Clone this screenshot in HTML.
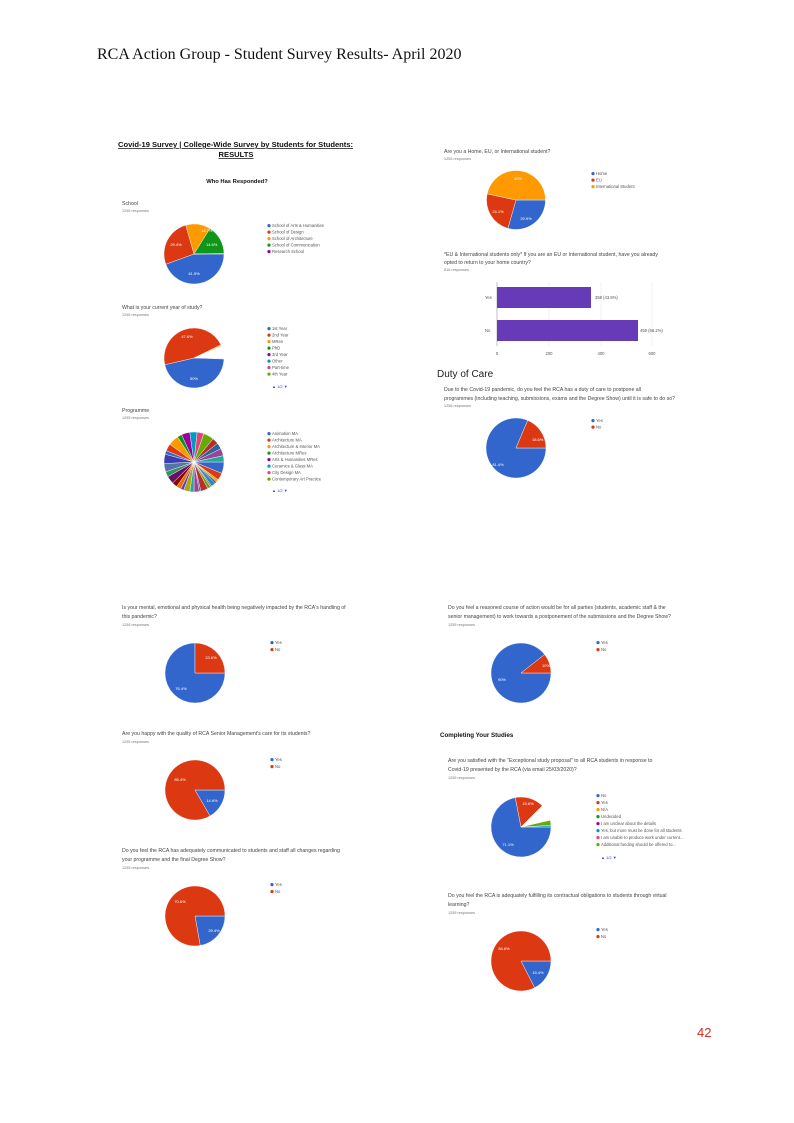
<!DOCTYPE html>
<html><head><meta charset="utf-8"><style>
html,body{margin:0;padding:0;background:#fff}
svg{display:block}
text{font-family:"Liberation Sans",sans-serif}
.t{font-size:5.2px;fill:#444}
.r{font-size:3.8px;fill:#777}
.l{font-size:4.2px;fill:#555}
.p{font-size:4px;fill:#fff}
</style></head><body>
<svg id="s" width="794" height="1123" viewBox="0 0 794 1123" xmlns="http://www.w3.org/2000/svg">
<text x="97" y="59" style="font-family:'Liberation Serif',serif;font-size:16px;fill:#111">RCA Action Group - Student Survey Results- April 2020</text>
<text x="697" y="1037" style="font-size:13px;fill:#d03020">42</text>

<text x="118" y="147" style="font-size:7.6px;font-weight:bold;fill:#111;text-decoration:underline" textLength="235">Covid-19 Survey | College-Wide Survey by Students for Students:</text>
<text x="236" y="157" text-anchor="middle" style="font-size:7.6px;font-weight:bold;fill:#111;text-decoration:underline">RESULTS</text>
<text x="237" y="183" text-anchor="middle" style="font-size:5.8px;font-weight:bold;fill:#111">Who Has Responded?</text>

<text class="t" x="122" y="205">School</text><text class="r" x="122" y="212">1255 responses</text>
<text class="t" x="122" y="309">What is your current year of study?</text><text class="r" x="122" y="316">1255 responses</text>
<text class="t" x="122" y="412">Programme</text><text class="r" x="122" y="419">1255 responses</text>

<g class="l">
<text x="272" y="227">School of Arts &amp; Humanities</text><text x="272" y="233.5">School of Design</text><text x="272" y="240">School of Architecture</text><text x="272" y="246.5">School of Communication</text><text x="272" y="253">Research School</text>
<text x="272" y="330">1st Year</text><text x="272" y="336.5">2nd Year</text><text x="272" y="343">MRes</text><text x="272" y="349.5">PhD</text><text x="272" y="356">3rd Year</text><text x="272" y="362.5">Other</text><text x="272" y="369">Part-time</text><text x="272" y="375.5">4th Year</text>
<text x="272" y="435">Animation MA</text><text x="272" y="441.5">Architecture MA</text><text x="272" y="448">Architecture &amp; Interior MA</text><text x="272" y="454.5">Architecture MRes</text><text x="272" y="461">Arts &amp; Humanities MRes</text><text x="272" y="467.5">Ceramics &amp; Glass MA</text><text x="272" y="474">City Design MA</text><text x="272" y="480.5">Contemporary Art Practice</text>
</g>
<text x="272" y="388" style="font-size:4px;fill:#3344cc">▲ 1/2 ▼</text>
<text x="272" y="492" style="font-size:4px;fill:#3344cc">▲ 1/2 ▼</text>

<text class="t" x="444" y="153">Are you a Home, EU, or International student?</text><text class="r" x="444" y="160">1255 responses</text>
<g class="l"><text x="596" y="175">Home</text><text x="596" y="181.5">EU</text><text x="596" y="188">International Student</text></g>
<text class="t" x="444" y="256">*EU &amp; International students only* If you are an EU or International student, have you already</text>
<text class="t" x="444" y="264">opted to return to your home country?</text><text class="r" x="444" y="271">816 responses</text>

<g stroke="#e6e6e6" stroke-width="0.6">
<line x1="549" y1="282" x2="549" y2="346"/><line x1="601" y1="282" x2="601" y2="346"/><line x1="652" y1="282" x2="652" y2="346"/>
</g>
<line x1="497" y1="282" x2="497" y2="346" stroke="#999" stroke-width="0.6"/>
<rect x="497" y="287" width="94" height="21" fill="#673ab7"/>
<rect x="497" y="320" width="141" height="21" fill="#673ab7"/>
<g class="l"><text x="485" y="299">Yes</text><text x="485" y="332">No</text>
<text x="595" y="299">358 (43.8%)</text><text x="640" y="332">459 (56.2%)</text>
<text x="497" y="355" text-anchor="middle">0</text><text x="549" y="355" text-anchor="middle">200</text><text x="601" y="355" text-anchor="middle">400</text><text x="652" y="355" text-anchor="middle">600</text></g>

<text x="437" y="377" style="font-size:10px;fill:#222">Duty of Care</text>
<text class="t" x="444" y="391">Due to the Covid-19 pandemic, do you feel the RCA has a duty of care to postpone all</text>
<text class="t" x="444" y="400">programmes (including teaching, submissions, exams and the Degree Show) until it is safe to do so?</text>
<text class="r" x="444" y="407">1255 responses</text>
<g class="l"><text x="596" y="422">Yes</text><text x="596" y="428.5">No</text></g>

<text class="t" x="122" y="609">Is your mental, emotional and physical health being negatively impacted by the RCA's handling of</text>
<text class="t" x="122" y="618">this pandemic?</text><text class="r" x="122" y="626">1255 responses</text>
<g class="l"><text x="275" y="644">Yes</text><text x="275" y="651">No</text></g>
<text class="t" x="122" y="735">Are you happy with the quality of RCA Senior Management's care for its students?</text><text class="r" x="122" y="743">1255 responses</text>
<g class="l"><text x="275" y="761">Yes</text><text x="275" y="768">No</text></g>
<text class="t" x="122" y="852">Do you feel the RCA has adequately communicated to students and staff all changes regarding</text>
<text class="t" x="122" y="861">your programme and the final Degree Show?</text><text class="r" x="122" y="869">1255 responses</text>
<g class="l"><text x="275" y="886">Yes</text><text x="275" y="893">No</text></g>

<text class="t" x="448" y="609">Do you feel a reasoned course of action would be for all parties (students, academic staff &amp; the</text>
<text class="t" x="448" y="618">senior management) to work towards a postponement of the submissions and the Degree Show?</text><text class="r" x="448" y="626">1255 responses</text>
<g class="l"><text x="601" y="644">Yes</text><text x="601" y="651">No</text></g>
<text x="440" y="737" style="font-size:6.2px;font-weight:bold;fill:#111">Completing Your Studies</text>
<text class="t" x="448" y="762">Are you satisfied with the "Exceptional study proposal" to all RCA students in response to</text>
<text class="t" x="448" y="771">Covid-19 presented by the RCA (via email 25/03/2020)?</text><text class="r" x="448" y="779">1255 responses</text>
<g class="l"><text x="601" y="797">No</text><text x="601" y="804">Yes</text><text x="601" y="811">N/A</text><text x="601" y="818">Undecided</text><text x="601" y="825">I am unclear about the details</text><text x="601" y="832">Yes, but more must be done for all students</text><text x="601" y="839">I am unable to produce work under current...</text><text x="601" y="846">Additional funding should be offered to...</text></g>
<text x="601" y="859" style="font-size:4px;fill:#3344cc">▲ 1/2 ▼</text>
<text class="t" x="448" y="897">Do you feel the RCA is adequately fulfilling its contractual obligations to students through virtual</text>
<text class="t" x="448" y="906">learning?</text><text class="r" x="448" y="914">1255 responses</text>
<g class="l"><text x="601" y="931">Yes</text><text x="601" y="938">No</text></g>

<g id="pies"></g>
<g id="dots"></g>
<g class="p">
<text x="194" y="275" text-anchor="middle">41.9%</text><text x="176" y="246" text-anchor="middle">29.4%</text><text x="201" y="232">13.7%</text><text x="206" y="246">14.6%</text>
<text x="194" y="380" text-anchor="middle">50%</text><text x="187" y="338" text-anchor="middle">47.6%</text>
<text x="518" y="180" text-anchor="middle">46%</text><text x="498" y="213" text-anchor="middle">24.1%</text><text x="526" y="220" text-anchor="middle">29.9%</text>
<text x="532" y="441">18.6%</text><text x="498" y="466" text-anchor="middle">81.4%</text>
<text x="211" y="659" text-anchor="middle">23.6%</text><text x="181" y="690" text-anchor="middle">76.4%</text>
<text x="180" y="781" text-anchor="middle">85.4%</text><text x="212" y="802" text-anchor="middle">14.6%</text>
<text x="180" y="903" text-anchor="middle">70.6%</text><text x="214" y="932" text-anchor="middle">29.4%</text>
<text x="542" y="667">10%</text><text x="502" y="681" text-anchor="middle">90%</text>
<text x="528" y="805" text-anchor="middle">15.6%</text><text x="508" y="846" text-anchor="middle">71.1%</text>
<text x="504" y="950" text-anchor="middle">84.6%</text><text x="538" y="974" text-anchor="middle">15.4%</text>
</g>
</svg>
<script>
var NS="http://www.w3.org/2000/svg",g=document.getElementById("pies"),d=document.getElementById("dots");
var C=["#3366cc","#dc3912","#ff9900","#109618","#990099","#0099c6","#dd4477","#66aa00","#b82e2e","#316395","#994499","#22aa99","#aaaa11","#6633cc","#e67300","#8b0707","#651067","#329262","#5574a6","#3b3eac"];
function arc(cx,cy,r,a0,a1,col){var p=document.createElementNS(NS,"path");var t0=a0*Math.PI/180,t1=a1*Math.PI/180;
var x0=cx+r*Math.cos(t0),y0=cy+r*Math.sin(t0),x1=cx+r*Math.cos(t1),y1=cy+r*Math.sin(t1);
p.setAttribute("d","M"+cx+","+cy+"L"+x0+","+y0+"A"+r+","+r+" 0 "+((a1-a0)>180?1:0)+" 1 "+x1+","+y1+"Z");
p.setAttribute("fill",col);p.setAttribute("stroke","#fff");p.setAttribute("stroke-width","0.4");g.appendChild(p);}
function pie(cx,cy,r,s){s.forEach(function(x){arc(cx,cy,r,x[0],x[1],x[2]);});}
pie(194,254,30,[[0,160,C[0]],[160,254,C[1]],[254,302,C[2]],[302,359,C[3]],[359,360,C[4]]]);
pie(194,358,30,[[2,167,C[0]],[167,334,C[1]],[334,336,C[2]],[336,337,C[3]],[337,359,"#ffffff"]]);
(function(){var a=0,i=0,w=[22,14,4,2,3,8,3,6,14,3,10,8,12,6,9,10,15,10,16,18,7,14,20,9,16,14,13,20,12,12,14,12];var sum=w.reduce(function(p,c){return p+c},0);
w.forEach(function(v){var b=a+v*360/sum;arc(194,462,30,a,b,C[i%20]);a=b;i++;});})();
pie(516,200,29.5,[[0,106,C[0]],[106,192,C[1]],[192,360,C[2]]]);
pie(516,448,30,[[0,293,C[0]],[293,360,C[1]]]);
pie(195,673,30,[[0,270,C[0]],[270,360,C[1]]]);
pie(195,790,30,[[0,60,C[0]],[60,360,C[1]]]);
pie(195,916,30,[[0,80,C[0]],[80,360,C[1]]]);
pie(521,673,30,[[0,322,C[0]],[322,360,C[1]]]);
pie(521,827,30,[[0,259,C[0]],[259,315,C[1]],[315,347,"#ffffff"],[347,357,C[7]],[357,360,C[5]]]);
pie(521,961,30,[[0,63,C[0]],[63,360,C[1]]]);
function dots(x,y,n,step,cols){for(var i=0;i<n;i++){var c=document.createElementNS(NS,"circle");c.setAttribute("cx",x);c.setAttribute("cy",y+i*step-1.4);c.setAttribute("r",1.6);c.setAttribute("fill",cols?cols[i]:C[i]);d.appendChild(c);}}
dots(269,227,5,6.5);dots(269,330,8,6.5);dots(269,435,8,6.5);dots(593,175,3,6.5);dots(593,422,2,6.5);
dots(272,644,2,7);dots(272,761,2,7);dots(272,886,2,7);dots(598,644,2,7);dots(598,797,8,7);dots(598,931,2,7);
</script>
</body></html>
